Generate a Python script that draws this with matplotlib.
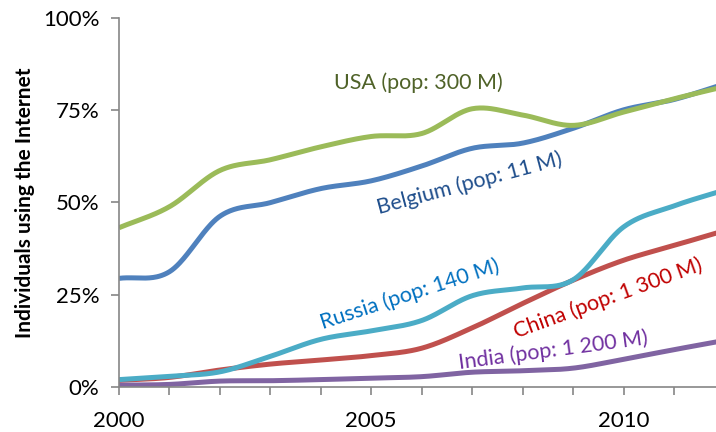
import numpy as np
import matplotlib
matplotlib.use("Agg")
import matplotlib.pyplot as plt
from matplotlib.ticker import FixedLocator, FuncFormatter

plt.rcParams['font.family'] = ['Lato', 'DejaVu Sans']

years = [2000, 2001, 2002, 2003, 2004, 2005, 2006, 2007, 2008, 2009, 2010, 2011, 2012]

usa = [43.1, 48.8, 58.6, 61.5, 65.0, 67.8, 68.6, 75.3, 73.6, 70.8, 74.4, 78.0, 81.3]
belgium = [29.4, 31.2, 46.2, 49.9, 53.7, 55.8, 59.8, 64.6, 66.0, 70.0, 75.0, 77.8, 82.0]
russia = [2.0, 2.9, 4.1, 8.3, 12.9, 15.2, 18.0, 24.7, 26.8, 29.0, 43.3, 49.0, 53.3]
china = [1.8, 2.6, 4.6, 6.2, 7.3, 8.5, 10.5, 16.0, 22.6, 28.9, 34.3, 38.3, 42.3]
india = [0.5, 0.7, 1.6, 1.7, 2.0, 2.4, 2.8, 4.0, 4.4, 5.1, 7.5, 10.1, 12.6]

series = [
    ("Belgium (pop: 11 M)", belgium, "#4F81BD", "#1F4E8C"),
    ("USA (pop: 300 M)", usa, "#9BBB59", "#4F6228"),
    ("China (pop: 1 300 M)", china, "#C0504D", "#C00000"),
    ("Russia (pop: 140 M)", russia, "#4BACC6", "#0070C0"),
    ("India (pop: 1 200 M)", india, "#8064A2", "#7030A0"),
]

# label placement: (x in years, y in %, rotation)
label_pos = {
    "USA (pop: 300 M)": (2005.93, 82.3, 0),
    "Belgium (pop: 11 M)": (2006.94, 55.0, 15),
    "Russia (pop: 140 M)": (2005.77, 25.1, 18),
    "China (pop: 1 300 M)": (2009.69, 23.9, 20),
    "India (pop: 1 200 M)": (2008.6, 10.0, 7.5),
}


def smooth(x, y, n=40):
    """Catmull-Rom curve through the points, like a smoothed line chart."""
    x = np.asarray(x, float)
    y = np.asarray(y, float)
    px = np.concatenate([[2 * x[0] - x[1]], x, [2 * x[-1] - x[-2]]])
    py = np.concatenate([[2 * y[0] - y[1]], y, [2 * y[-1] - y[-2]]])
    xs, ys = [], []
    t = np.linspace(0, 1, n, endpoint=False)
    for i in range(1, len(px) - 2):
        p0, p1, p2, p3 = px[i - 1], px[i], px[i + 1], px[i + 2]
        q0, q1, q2, q3 = py[i - 1], py[i], py[i + 1], py[i + 2]
        t2, t3 = t * t, t * t * t
        xs.append(0.5 * (2 * p1 + (-p0 + p2) * t + (2 * p0 - 5 * p1 + 4 * p2 - p3) * t2
                         + (-p0 + 3 * p1 - 3 * p2 + p3) * t3))
        ys.append(0.5 * (2 * q1 + (-q0 + q2) * t + (2 * q0 - 5 * q1 + 4 * q2 - q3) * t2
                         + (-q0 + 3 * q1 - 3 * q2 + q3) * t3))
    xs.append([x[-1]])
    ys.append([y[-1]])
    return np.concatenate(xs), np.concatenate(ys)


fig = plt.figure(figsize=(7.16, 4.32), dpi=100)
ax = fig.add_axes([119 / 716, 1 - 387 / 432, 1 - 119 / 716, (387 - 17.5) / 432])

for name, vals, color, tcolor in series:
    sx, sy = smooth(years, vals)
    ax.plot(sx, sy, color=color, lw=3.6, solid_capstyle='butt', solid_joinstyle='round')
    lx, ly, rot = label_pos[name]
    ax.text(lx, ly, name, color=tcolor, fontsize=15.5, rotation=rot,
            rotation_mode='anchor', ha='center', va='center')

ax.set_xlim(2000, 2000 + 597 / 50.45)
ax.set_ylim(0, 100)

ax.xaxis.set_major_locator(FixedLocator(years))
ax.xaxis.set_major_formatter(FuncFormatter(lambda v, p: f"{int(round(v))}" if int(round(v)) % 5 == 0 else ""))
ax.yaxis.set_major_locator(FixedLocator([0, 25, 50, 75, 100]))
ax.yaxis.set_major_formatter(FuncFormatter(lambda v, p: f"{int(v)}%"))

for side in ("top", "right"):
    ax.spines[side].set_visible(False)
for side in ("left", "bottom"):
    ax.spines[side].set_color("#868686")
    ax.spines[side].set_linewidth(1.2)

ax.tick_params(axis='both', colors="#868686", length=6, width=1.2, labelcolor="black", labelsize=16)
ax.tick_params(axis='x', pad=11)
ax.tick_params(axis='y', pad=8)

ax.set_ylabel("Individuals using the Internet", fontsize=15, fontweight='bold', labelpad=6)

fig.savefig("out.png", dpi=100)
